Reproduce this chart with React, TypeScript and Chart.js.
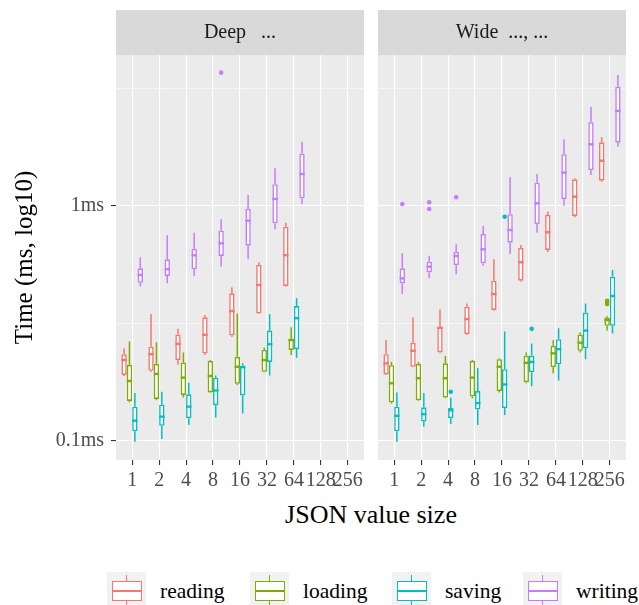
import React, { useEffect, useRef } from 'react';
import { Chart, registerables } from 'chart.js';

Chart.register(...registerables);

const FONT = '"Liberation Serif", "DejaVu Serif", serif';

// ---------- data ----------
const SIZES = ['1', '2', '4', '8', '16', '32', '64', '128', '256'];
const SERIES = ['reading', 'loading', 'saving', 'writing'];
const COLORS = ['#F8766D', '#7CAE00', '#00BFC4', '#C77CFF'];
const PANEL_TITLES = ['Deep   ...', 'Wide  ..., ...'];
const Y_TITLE = 'Time (ms, log10)';
const X_TITLE = 'JSON value size';
const Y_MAJOR = [0.1, 1];
const Y_MINOR = [0.3162, 3.162];
const Y_LABELS = ['0.1ms', '1ms'];
const Y_MIN = 0.083;
const Y_MAX = 4.39;

type Box = [number, number, number, number, number] | null; // [lowWhisker, q1, median, q3, highWhisker] in ms

const DEEP_READING: Box[] = [
  [0.189, 0.191, 0.221, 0.234, 0.248],
  [0.197, 0.199, 0.234, 0.252, 0.347],
  [0.211, 0.221, 0.259, 0.284, 0.3],
  [0.232, 0.236, 0.283, 0.336, 0.344],
  [0.277, 0.281, 0.357, 0.425, 0.451],
  [0.347, 0.349, 0.461, 0.561, 0.576],
  [0.454, 0.457, 0.617, 0.816, 0.849],
  null,
  null,
];
const DEEP_LOADING: Box[] = [
  [0.146, 0.148, 0.18, 0.211, 0.265],
  [0.149, 0.151, 0.193, 0.213, 0.263],
  [0.153, 0.157, 0.186, 0.216, 0.238],
  [0.16, 0.161, 0.189, 0.219, 0.221],
  [0.173, 0.175, 0.207, 0.228, 0.349],
  [0.196, 0.197, 0.221, 0.244, 0.25],
  [0.232, 0.244, 0.269, 0.272, 0.305],
  null,
  null,
];
const DEEP_SAVING: Box[] = [
  [0.0993, 0.11, 0.122, 0.14, 0.16],
  [0.102, 0.116, 0.127, 0.143, 0.162],
  [0.117, 0.125, 0.14, 0.158, 0.177],
  [0.126, 0.142, 0.164, 0.186, 0.19],
  [0.131, 0.156, 0.206, 0.209, 0.214],
  [0.19, 0.217, 0.258, 0.295, 0.346],
  [0.226, 0.246, 0.333, 0.375, 0.405],
  null,
  null,
];
const DEEP_WRITING: Box[] = [
  [0.454, 0.471, 0.509, 0.543, 0.605],
  [0.469, 0.504, 0.538, 0.593, 0.75],
  [0.504, 0.538, 0.617, 0.656, 0.77],
  [0.552, 0.613, 0.694, 0.785, 0.878],
  [0.593, 0.678, 0.866, 0.974, 1.114],
  [0.796, 0.844, 1.071, 1.237, 1.447],
  [1.02, 1.078, 1.368, 1.67, 1.877],
  null,
  null,
];

const WIDE_READING: Box[] = [
  [0.191, 0.192, 0.214, 0.234, 0.269],
  [0.206, 0.207, 0.242, 0.262, 0.335],
  [0.236, 0.238, 0.303, 0.306, 0.363],
  [0.283, 0.285, 0.33, 0.373, 0.385],
  [0.359, 0.361, 0.422, 0.481, 0.593],
  [0.476, 0.481, 0.576, 0.663, 0.682],
  [0.637, 0.65, 0.773, 0.916, 0.946],
  [0.895, 0.907, 1.095, 1.299, 1.312],
  [1.269, 1.281, 1.559, 1.866, 1.96],
];
const WIDE_LOADING: Box[] = [
  [0.144, 0.146, 0.176, 0.21, 0.217],
  [0.148, 0.149, 0.185, 0.213, 0.217],
  [0.152, 0.153, 0.185, 0.214, 0.23],
  [0.152, 0.155, 0.186, 0.219, 0.221],
  [0.161, 0.163, 0.207, 0.223, 0.225],
  [0.176, 0.178, 0.215, 0.231, 0.238],
  [0.194, 0.206, 0.236, 0.254, 0.269],
  [0.238, 0.242, 0.262, 0.284, 0.29],
  [0.295, 0.309, 0.327, 0.335, 0.34],
];
const WIDE_SAVING: Box[] = [
  [0.0993, 0.11, 0.128, 0.14, 0.161],
  [0.115, 0.121, 0.13, 0.139, 0.16],
  [0.118, 0.125, 0.135, 0.138, 0.153],
  [0.117, 0.136, 0.145, 0.163, 0.204],
  [0.129, 0.138, 0.174, 0.202, 0.292],
  [0.171, 0.196, 0.217, 0.231, 0.26],
  [0.181, 0.212, 0.246, 0.271, 0.302],
  [0.223, 0.248, 0.295, 0.352, 0.385],
  [0.287, 0.309, 0.414, 0.5, 0.534],
];
const WIDE_WRITING: Box[] = [
  [0.422, 0.469, 0.492, 0.543, 0.629],
  [0.492, 0.522, 0.552, 0.579, 0.614],
  [0.512, 0.561, 0.613, 0.639, 0.687],
  [0.557, 0.57, 0.654, 0.76, 0.822],
  [0.625, 0.698, 0.79, 0.922, 1.325],
  [0.77, 0.838, 1.027, 1.256, 1.368],
  [1.003, 1.071, 1.386, 1.66, 1.922],
  [1.355, 1.423, 1.83, 2.271, 2.646],
  [1.788, 1.859, 2.537, 3.219, 3.609],
];

// outliers: [size label, value in ms]
const DEEP_OUT_READING: [string, number][] = [];
const DEEP_OUT_LOADING: [string, number][] = [];
const DEEP_OUT_SAVING: [string, number][] = [];
const DEEP_OUT_WRITING: [string, number][] = [['8', 3.692]];
const WIDE_OUT_READING: [string, number][] = [];
const WIDE_OUT_LOADING: [string, number][] = [['256', 0.383], ['256', 0.39], ['256', 0.395]];
const WIDE_OUT_SAVING: [string, number][] = [['4', 0.162], ['16', 0.9], ['32', 0.3]];
const WIDE_OUT_WRITING: [string, number][] = [['1', 1.02], ['2', 1.037], ['2', 0.971], ['4', 1.089]];

const DEEP_STATS = [DEEP_READING, DEEP_LOADING, DEEP_SAVING, DEEP_WRITING];
const DEEP_OUT = [DEEP_OUT_READING, DEEP_OUT_LOADING, DEEP_OUT_SAVING, DEEP_OUT_WRITING];
const WIDE_STATS = [WIDE_READING, WIDE_LOADING, WIDE_SAVING, WIDE_WRITING];
const WIDE_OUT = [WIDE_OUT_READING, WIDE_OUT_LOADING, WIDE_OUT_SAVING, WIDE_OUT_WRITING];

// ---------- layout constants ----------
const STRIP_TOP = 10;
const CANVAS_H = 500;

const boxplotPlugin = {
  id: 'boxplotParts',
  beforeDraw(chart: any) {
    const { ctx, chartArea: a } = chart;
    ctx.save();
    ctx.fillStyle = '#EBEBEB';
    ctx.fillRect(a.left, a.top, a.right - a.left, a.bottom - a.top);
    ctx.fillStyle = '#D9D9D9';
    ctx.fillRect(a.left, STRIP_TOP, a.right - a.left, a.top - STRIP_TOP);
    ctx.restore();
  },
  beforeDatasetsDraw(chart: any) {
    const { ctx } = chart;
    const ys = chart.scales.y;
    ctx.save();
    ctx.lineWidth = 1.5;
    chart.data.datasets.forEach((ds: any, i: number) => {
      const meta = chart.getDatasetMeta(i);
      ctx.strokeStyle = ds.borderColor;
      meta.data.forEach((el: any, j: number) => {
        const st = ds.data[j].stats;
        ctx.beginPath();
        ctx.moveTo(el.x, ys.getPixelForValue(st[0]));
        ctx.lineTo(el.x, ys.getPixelForValue(st[1]));
        ctx.moveTo(el.x, ys.getPixelForValue(st[3]));
        ctx.lineTo(el.x, ys.getPixelForValue(st[4]));
        ctx.stroke();
      });
    });
    ctx.restore();
  },
  afterDatasetsDraw(chart: any) {
    const { ctx } = chart;
    const ys = chart.scales.y;
    ctx.save();
    chart.data.datasets.forEach((ds: any, i: number) => {
      const meta = chart.getDatasetMeta(i);
      ctx.strokeStyle = ds.borderColor;
      ctx.fillStyle = ds.borderColor;
      ctx.lineWidth = 2.4;
      meta.data.forEach((el: any, j: number) => {
        const st = ds.data[j].stats;
        const py = ys.getPixelForValue(st[2]);
        ctx.beginPath();
        ctx.moveTo(el.x - el.width / 2, py);
        ctx.lineTo(el.x + el.width / 2, py);
        ctx.stroke();
      });
      (ds.outliers || []).forEach((o: [string, number]) => {
        const xv = SIZES.indexOf(o[0]) + 1;
        const j = ds.data.findIndex((d: any) => d.x === xv);
        if (j < 0) return;
        const el = meta.data[j];
        ctx.beginPath();
        ctx.arc(el.x, ys.getPixelForValue(o[1]), 2.3, 0, Math.PI * 2);
        ctx.fill();
      });
    });
    ctx.restore();
  },
};

function isClose(a: number, b: number) {
  return Math.abs(a - b) < 1e-9;
}

function makeConfig(title: string, stats: Box[][], outs: [string, number][][], showY: boolean, padLeft: number, padRight: number): any {
  const datasets = SERIES.map((name, s) => ({
    type: 'bar',
    label: name,
    data: stats[s]
      .map((b, i) => (b ? { x: i + 1, y: [b[1], b[3]], stats: b } : null))
      .filter((d) => d !== null),
    outliers: outs[s],
    backgroundColor: '#FFFFFF',
    borderColor: COLORS[s],
    borderWidth: 1.6,
    borderSkipped: false,
    barThickness: 5.4,
    inflateAmount: 0,
  }));
  const allY = [...Y_MAJOR, ...Y_MINOR].sort((a, b) => a - b);
  return {
    type: 'bar',
    data: { datasets },
    plugins: [boxplotPlugin],
    options: {
      animation: false,
      responsive: false,
      devicePixelRatio: 1,
      events: [],
      layout: { padding: { left: padLeft, right: padRight, top: 0, bottom: 0 } },
      plugins: {
        legend: { display: false },
        tooltip: { enabled: false },
        title: {
          display: true,
          text: title,
          fullSize: false,
          color: '#1A1A1A',
          font: { family: FONT, size: 20, weight: 'normal', lineHeight: 1.2 },
          padding: { top: 20.5, bottom: 10.5 },
        },
      },
      scales: {
        x: {
          type: 'linear',
          min: 0.4,
          max: 9.6,
          offset: false,
          afterBuildTicks: (sc: any) => {
            sc.ticks = SIZES.map((_, i) => ({ value: i + 1 }));
          },
          afterFit: (sc: any) => {
            sc.height = 40;
          },
          ticks: {
            autoSkip: false,
            maxRotation: 0,
            minRotation: 0,
            padding: 4,
            color: '#4D4D4D',
            font: { family: FONT, size: 20 },
            callback: (v: number) => SIZES[Math.round(v) - 1] ?? '',
          },
          grid: {
            offset: false,
            color: '#FFFFFF',
            lineWidth: 1.1,
            drawTicks: true,
            tickLength: 5,
            tickColor: '#333333',
            tickWidth: 1.1,
          },
          border: { display: false },
        },
        y: {
          type: 'logarithmic',
          min: Y_MIN,
          max: Y_MAX,
          afterBuildTicks: (sc: any) => {
            sc.ticks = allY.map((v) => ({ value: v }));
          },
          afterFit: (sc: any) => {
            sc.width = showY ? 116 : 0;
          },
          title: {
            display: showY,
            text: Y_TITLE,
            color: '#000000',
            font: { family: FONT, size: 25, lineHeight: 1.2 },
            padding: { top: 10, bottom: 0 },
          },
          ticks: {
            display: showY,
            padding: 7,
            color: '#4D4D4D',
            font: { family: FONT, size: 20 },
            callback: (v: number) => {
              const k = Y_MAJOR.findIndex((m) => isClose(m, v));
              return k >= 0 ? Y_LABELS[k] : '';
            },
          },
          grid: {
            color: '#FFFFFF',
            lineWidth: (c: any) => (Y_MAJOR.some((m) => isClose(m, c.tick.value)) ? 1.1 : 0.55),
            drawTicks: showY,
            tickLength: 5,
            tickWidth: 1.1,
            tickColor: (c: any) => (Y_MAJOR.some((m) => isClose(m, c.tick.value)) ? '#333333' : 'rgba(0,0,0,0)'),
          },
          border: { display: false },
        },
      },
    },
  };
}

function Panel(props: { title: string; stats: Box[][]; outs: [string, number][][]; showY: boolean; left: number; width: number; padLeft: number; padRight: number }) {
  const ref = useRef<HTMLCanvasElement>(null);
  useEffect(() => {
    const chart = new Chart(ref.current as HTMLCanvasElement, makeConfig(props.title, props.stats, props.outs, props.showY, props.padLeft, props.padRight));
    return () => chart.destroy();
  }, []);
  return (
    <div style={{ position: 'absolute', left: props.left, top: 0, width: props.width, height: CANVAS_H }}>
      <canvas ref={ref} width={props.width} height={CANVAS_H} style={{ display: 'block' }} />
    </div>
  );
}

const LEGEND_X = [107, 250, 392, 523];

function LegendKey({ color }: { color: string }) {
  return (
    <div style={{ position: 'relative', width: 39, height: 39, background: '#F2F2F2', flex: 'none' }}>
      <div style={{ position: 'absolute', left: 18.8, top: 3, width: 1.3, height: 33, background: color }} />
      <div
        style={{
          position: 'absolute',
          left: 4.5,
          top: 9,
          width: 30,
          height: 20,
          boxSizing: 'border-box',
          border: `1.4px solid ${color}`,
          background: '#FFFFFF',
        }}
      />
      <div style={{ position: 'absolute', left: 4.5, top: 18.3, width: 30, height: 1.4, background: color }} />
    </div>
  );
}

export default function App() {
  return (
    <div style={{ position: 'absolute', left: 0, top: 0, width: 639, height: 605, overflow: 'hidden', background: '#FFFFFF' }}>
      <Panel title={PANEL_TITLES[0]} stats={DEEP_STATS} outs={DEEP_OUT} showY={true} left={0} width={372} padLeft={0} padRight={8} />
      <Panel title={PANEL_TITLES[1]} stats={WIDE_STATS} outs={WIDE_OUT} showY={false} left={370} width={269} padLeft={8} padRight={13} />
      <div
        style={{
          position: 'absolute',
          left: 116,
          width: 510,
          top: 500,
          height: 30,
          lineHeight: '30px',
          textAlign: 'center',
          fontFamily: FONT,
          fontSize: 26,
          color: '#000000',
        }}
      >
        {X_TITLE}
      </div>
      {SERIES.map((name, i) => (
        <div
          key={name}
          style={{ position: 'absolute', left: LEGEND_X[i], top: 572, height: 39, display: 'flex', alignItems: 'center', whiteSpace: 'nowrap' }}
        >
          <LegendKey color={COLORS[i]} />
          <span style={{ marginLeft: 14, fontFamily: FONT, fontSize: 21.5, color: '#000000', lineHeight: '39px' }}>{name}</span>
        </div>
      ))}
    </div>
  );
}
